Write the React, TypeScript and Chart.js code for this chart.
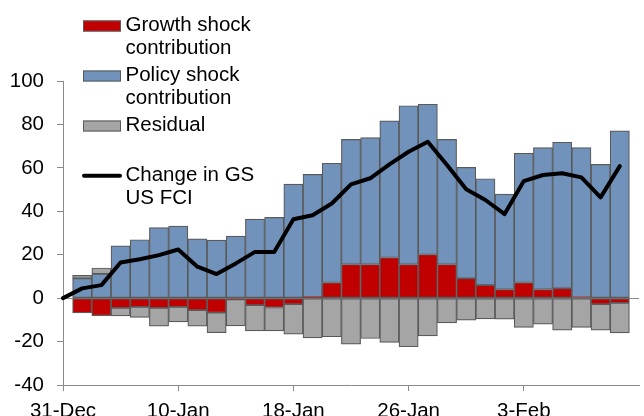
import React, { useEffect, useRef } from 'react';
import { Chart, registerables } from 'chart.js';

Chart.register(...registerables);

const FONT = '"Liberation Sans", Arial, sans-serif';

const categories = [
  '31-Dec', '2-Jan', '3-Jan', '6-Jan', '7-Jan', '8-Jan',
  '10-Jan', '13-Jan', '14-Jan', '15-Jan', '16-Jan', '17-Jan',
  '18-Jan', '20-Jan', '21-Jan', '22-Jan', '23-Jan', '24-Jan',
  '26-Jan', '27-Jan', '28-Jan', '29-Jan', '30-Jan', '31-Jan',
  '3-Feb', '4-Feb', '5-Feb', '6-Feb', '7-Feb', '10-Feb', '11-Feb',
];

const tickLabelIndices = [0, 6, 12, 18, 24];

const growthShock = [
  null, -6.8, -8.1, -4.5, -4.0, -4.5, -4.0, -5.5, -6.7, -0.6,
  -3.2, -4.3, -2.8, 0.5, 7.2, 15.5, 15.5, 18.7, 15.5, 20.1,
  15.5, 9.1, 6.0, 4.0, 7.2, 4.0, 4.5, 0.3, -2.8, -2.2, null,
];

const policyShock = [
  null, 9.1, 11.2, 24.1, 26.9, 32.5, 33.2, 27.3, 26.7, 28.6,
  36.4, 37.2, 52.5, 56.5, 54.9, 57.6, 58.4, 62.9, 73.1, 69.2,
  57.6, 51.1, 49.0, 43.9, 59.5, 65.3, 67.3, 69.0, 61.6, 77.0, null,
];

const residual = [
  null, 1.4, 2.7, -3.7, -4.9, -8.4, -6.9, -7.4, -9.2, -12.2,
  -11.9, -10.8, -13.8, -18.3, -17.8, -21.2, -18.6, -20.4, -22.4, -17.4,
  -11.4, -10.1, -9.6, -9.7, -13.5, -12.0, -14.7, -13.5, -11.9, -13.8, null,
];

const fciChange = [
  0, 4.5, 6.0, 16.4, 17.9, 19.8, 22.4, 14.5, 11.1, 16.0,
  21.3, 21.3, 36.3, 38.2, 43.6, 52.4, 55.2, 61.6, 67.4, 72.0,
  61.3, 50.1, 45.2, 38.7, 53.9, 56.7, 57.5, 55.6, 46.4, 60.8, null,
];

const yTicks = [-40, -20, 0, 20, 40, 60, 80, 100];

const legendLines = [
  ['Growth shock', 'contribution'],
  ['Policy shock', 'contribution'],
  ['Residual'],
  ['Change in GS', 'US FCI'],
];

const RED = '#c00000';
const BLUE = '#7193bb';
const GRAY = '#a5a5a5';
const EDGE = '#5a5a5a';
const AXIS = '#8a8a8a';

const legendPlugin = {
  id: 'customLegend',
  afterDraw(chart: any) {
    const ctx = chart.ctx;
    const rowY = [25, 75, 125, 175];
    const lineGap = 23.5;
    const boxX = 83;
    const boxW = 38;
    const boxH = 11;
    const textX = 125.5;
    ctx.save();
    ctx.font = `20.5px ${FONT}`;
    ctx.textBaseline = 'middle';
    ctx.textAlign = 'left';
    chart.data.datasets.forEach((ds: any, i: number) => {
      const y = rowY[i];
      if (ds.type === 'line') {
        ctx.strokeStyle = '#000';
        ctx.lineWidth = 4;
        ctx.lineCap = 'round';
        ctx.beginPath();
        ctx.moveTo(boxX + 1, y + 0.7);
        ctx.lineTo(boxX + boxW - 1, y + 0.7);
        ctx.stroke();
      } else {
        ctx.fillStyle = ds.backgroundColor;
        ctx.fillRect(boxX, y + 1 - boxH / 2, boxW, boxH);
        ctx.strokeStyle = EDGE;
        ctx.lineWidth = 1;
        ctx.strokeRect(boxX + 0.5, y + 1 - boxH / 2 + 0.5, boxW - 1, boxH - 1);
      }
      ctx.fillStyle = '#000';
      legendLines[i].forEach((t, j) => {
        ctx.fillText(t, textX, y + j * lineGap);
      });
    });
    ctx.restore();
  },
};

export default function App() {
  const canvasRef = useRef<HTMLCanvasElement | null>(null);

  useEffect(() => {
    if (!canvasRef.current) return;
    const barCommon = {
      type: 'bar' as const,
      borderColor: EDGE,
      borderWidth: 1.2,
      borderSkipped: false,
      barPercentage: 1,
      categoryPercentage: 1,
      stack: 'bars',
      order: 2,
    };
    const chart = new Chart(canvasRef.current, {
      type: 'bar',
      data: {
        labels: categories,
        datasets: [
          { ...barCommon, label: 'Growth shock contribution', data: growthShock, backgroundColor: RED },
          { ...barCommon, label: 'Policy shock contribution', data: policyShock, backgroundColor: BLUE },
          { ...barCommon, label: 'Residual', data: residual, backgroundColor: GRAY },
          {
            type: 'line' as const,
            label: 'Change in GS US FCI',
            data: fciChange,
            borderColor: '#000',
            backgroundColor: '#000',
            borderWidth: 4,
            pointRadius: 0,
            tension: 0,
            borderJoinStyle: 'round',
            borderCapStyle: 'round',
            stack: 'line',
            order: 0,
          } as any,
        ],
      },
      options: {
        animation: false,
        responsive: false,
        devicePixelRatio: 1,
        layout: { padding: { top: 81, left: 0, right: 0, bottom: 0 } },
        plugins: {
          legend: { display: false },
          tooltip: { enabled: false },
        },
        scales: {
          x: {
            type: 'category',
            offset: false,
            stacked: true,
            afterFit: (scale: any) => { scale.height = 31; },
            grid: {
              offset: false,
              drawOnChartArea: false,
              drawTicks: true,
              tickLength: 6,
              tickColor: (c: any) => (tickLabelIndices.includes(c.index) ? AXIS : 'rgba(0,0,0,0)'),
            },
            border: { display: true, color: AXIS, width: 1 },
            ticks: {
              autoSkip: false,
              maxRotation: 0,
              minRotation: 0,
              padding: 8,
              color: '#000',
              font: { family: FONT, size: 20.5 },
              callback: (_v: any, i: number) => (tickLabelIndices.includes(i) ? categories[i] : ''),
            },
          },
          y: {
            stacked: true,
            min: -40,
            max: 100,
            afterFit: (scale: any) => { scale.width = 63; },
            afterBuildTicks: (scale: any) => { scale.ticks = yTicks.map((v) => ({ value: v })); },
            grid: {
              drawOnChartArea: true,
              drawTicks: true,
              tickLength: 6,
              color: (c: any) => (c.tick && c.tick.value === 0 ? AXIS : 'rgba(0,0,0,0)'),
              tickColor: AXIS,
              lineWidth: 1,
            },
            border: { display: true, color: AXIS, width: 1 },
            ticks: {
              padding: 13,
              color: '#000',
              font: { family: FONT, size: 20.5 },
            },
          },
        },
      },
      plugins: [legendPlugin],
    });
    return () => chart.destroy();
  }, []);

  return (
    <div style={{ position: 'fixed', left: 0, top: 0, width: 644, height: 416, overflow: 'hidden', background: '#fff' }}>
      <canvas ref={canvasRef} width={647} height={416} style={{ display: 'block', width: 647, height: 416 }} />
    </div>
  );
}
